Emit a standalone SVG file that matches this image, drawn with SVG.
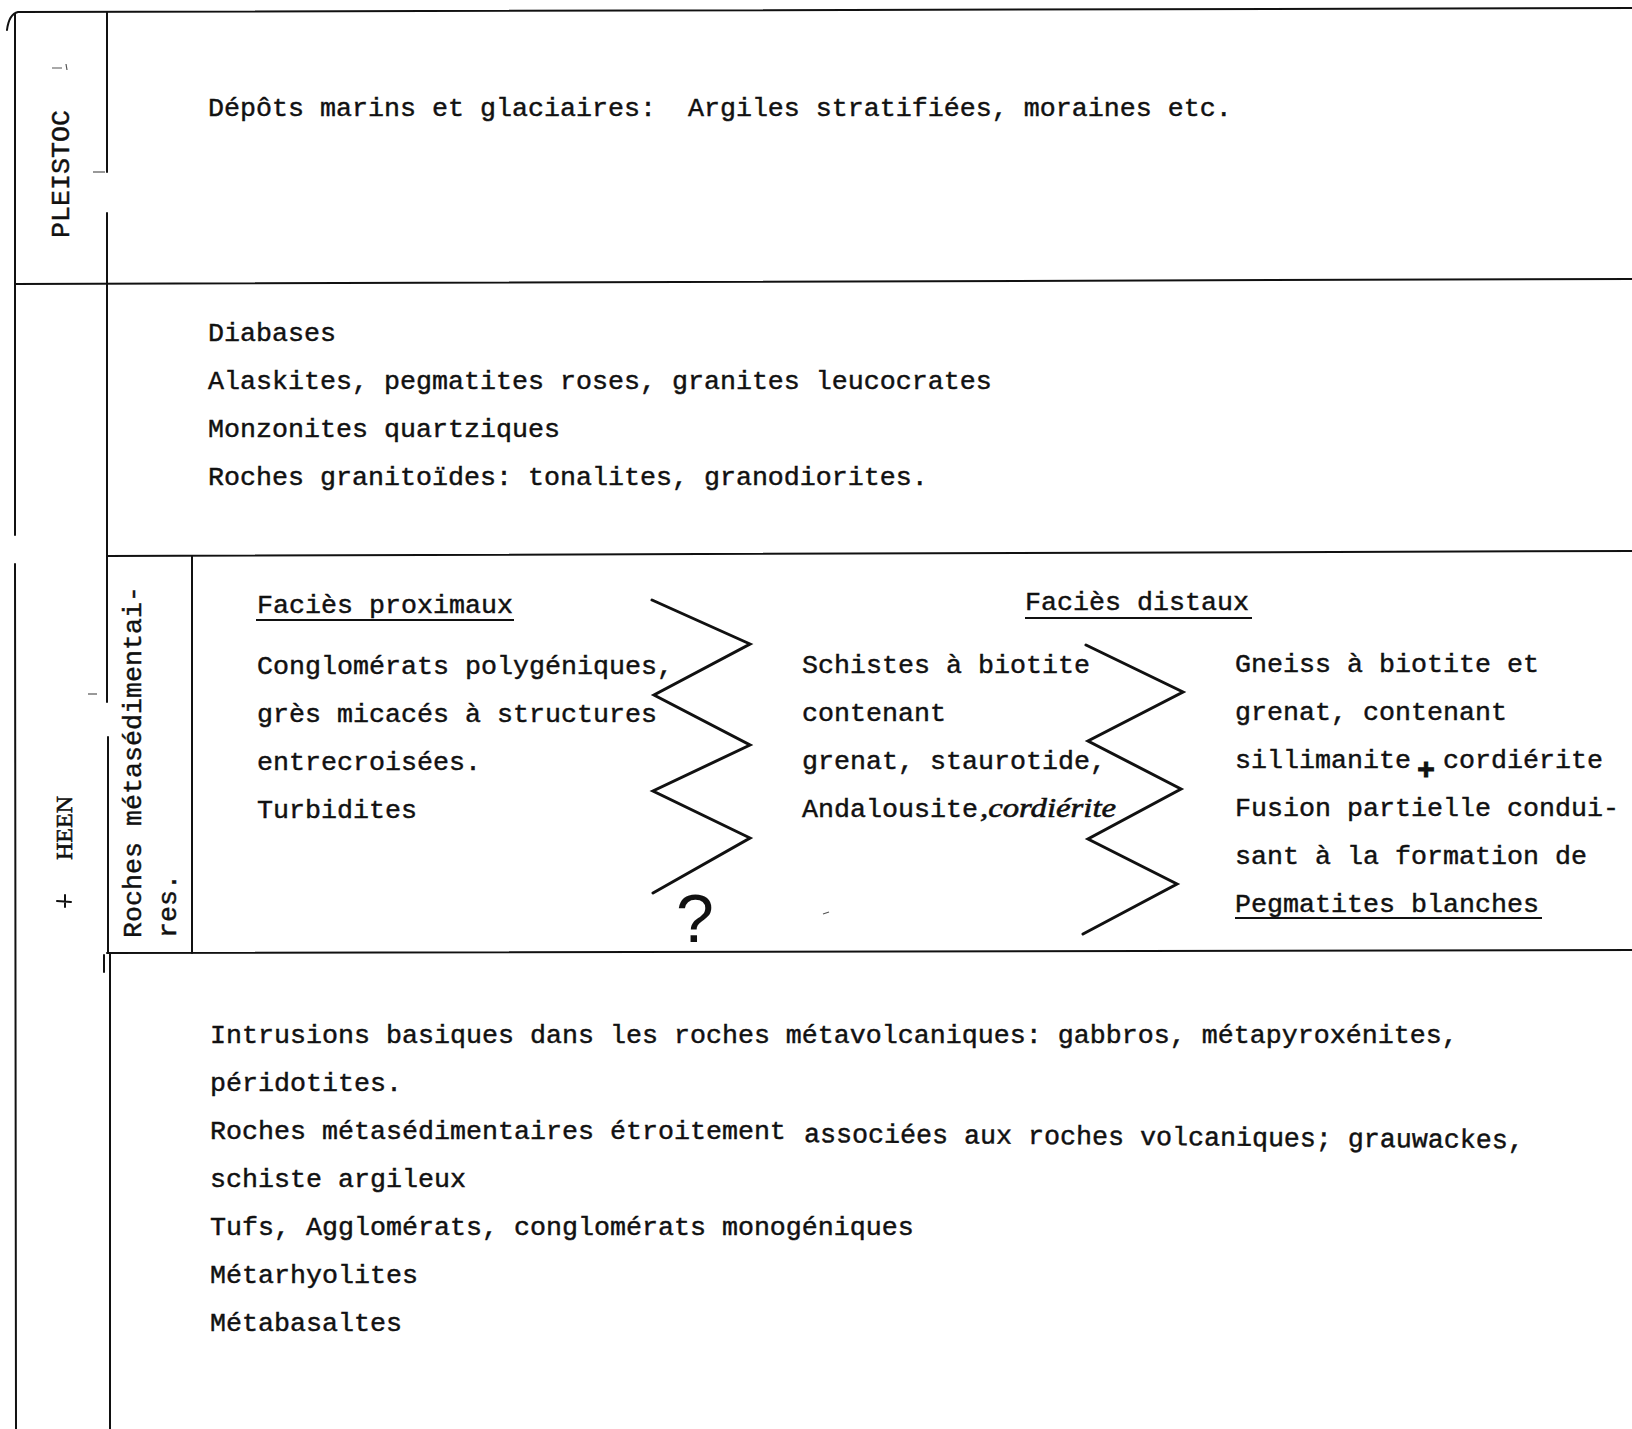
<svg xmlns="http://www.w3.org/2000/svg" width="1632" height="1429" viewBox="0 0 1632 1429">
<style>
  .t { font-family: "Liberation Mono", "Courier New", monospace; font-size: 26.67px; fill: #111; stroke: #111; stroke-width: 0.45; }
  .hand { font-family: "Liberation Serif", serif; font-style: italic; fill: #111; stroke: #111; stroke-width: 0.6; }
  .ln { stroke: #111; stroke-width: 2; fill: none; stroke-linecap: round; }
  .zz { stroke: #111; stroke-width: 3; fill: none; stroke-linejoin: miter; stroke-linecap: round; }
  .ul { stroke: #111; stroke-width: 1.8; }
  .faint { stroke: #555; stroke-width: 1.2; fill: none; }
</style>
<rect width="1632" height="1429" fill="#fff"/>

<g id="connectors">
  <!-- frame lines -->
  <path class="ln" d="M7,30 Q9,14 18,12 L1632,8"/>
  <path class="ln" d="M15,14 L15,535"/>
  <path class="ln" d="M15,564 L16,1429"/>
  <path class="ln" d="M107,12 L107,172"/>
  <path class="ln" d="M107,213 L107,702"/>
  <path class="ln" d="M108,737 L108,953"/>
  <path class="ln" d="M110,953 L110,1429"/>
  <path class="ln" d="M104,955 L104,972"/>
  <path class="ln" d="M15,284 L1632,279"/>
  <path class="ln" d="M107,556 L1632,551"/>
  <path class="ln" d="M107,953 L1632,950"/>
  <path class="ln" d="M192,556 L192,953"/>
  <!-- zigzags -->
  <polyline class="zz" points="652,600 750,644 654,695 750,745 653,791 750,838 653,893"/>
  <polyline class="zz" points="1086,645 1183,692 1088,741 1181,789 1088,839 1177,884 1083,934"/>
  <!-- underlines -->
  <line class="ul" x1="256" y1="620" x2="514" y2="620"/>
  <line class="ul" x1="1025" y1="618" x2="1252" y2="618"/>
  <line class="ul" x1="1235" y1="918" x2="1542" y2="918"/>
  <!-- small marks -->
  <path class="faint" d="M52,68 L62,68 M66,64 L67,70"/>
  <path class="faint" d="M93,172 L105,172"/>
  <path class="faint" d="M88,694 L97,694"/>
  <path class="faint" d="M823,914 L829,912"/>
  <path class="ln" d="M57,901 L71,902 M65,895 L65,907"/>
</g>

<g id="pleistoc-label">
  <text class="t" transform="translate(69,238) rotate(-90)">PLEISTOC</text>
</g>
<g id="heen-label">
  <text transform="translate(72,860) rotate(-90)" font-family="Liberation Serif, serif" font-size="24" fill="#111" stroke="#111" stroke-width="0.6">HEEN</text>
</g>
<g id="roches-label">
  <text class="t" transform="translate(141,938) rotate(-90)">Roches métasédimentai-</text>
  <text class="t" transform="translate(176,938) rotate(-90)">res.</text>
</g>

<g id="pleistocene">
  <text class="t" x="208" y="116" xml:space="preserve">Dépôts marins et glaciaires:  Argiles stratifiées, moraines etc.</text>
</g>

<g id="intrusives">
  <text class="t" x="208" y="341">Diabases</text>
  <text class="t" x="208" y="389">Alaskites, pegmatites roses, granites leucocrates</text>
  <text class="t" x="208" y="437">Monzonites quartziques</text>
  <text class="t" x="208" y="485">Roches granitoïdes: tonalites, granodiorites.</text>
</g>

<g id="facies-proximaux">
  <text class="t" x="257" y="613">Faciès proximaux</text>
  <text class="t" x="257" y="674">Conglomérats polygéniques,</text>
  <text class="t" x="257" y="722">grès micacés à structures</text>
  <text class="t" x="257" y="770">entrecroisées.</text>
  <text class="t" x="257" y="818">Turbidites</text>
  <text x="695" y="942" text-anchor="middle" font-family="Liberation Sans, sans-serif" font-size="68" fill="#111">?</text>
</g>

<g id="facies-intermediaire">
  <text class="t" x="802" y="673">Schistes à biotite</text>
  <text class="t" x="802" y="721">contenant</text>
  <text class="t" x="802" y="769">grenat, staurotide,</text>
  <text class="t" x="802" y="817">Andalousite</text>
  <text class="hand" x="980" y="817" font-size="28" textLength="136" lengthAdjust="spacingAndGlyphs">,cordiérite</text>
</g>

<g id="facies-distaux">
  <text class="t" x="1025" y="610">Faciès distaux</text>
  <text class="t" x="1235" y="672">Gneiss à biotite et</text>
  <text class="t" x="1235" y="720">grenat, contenant</text>
  <text class="t" x="1235" y="768">sillimanite</text>
  <text x="1426" y="779" text-anchor="middle" font-family="Liberation Sans, sans-serif" font-size="30" font-weight="bold" fill="#111" stroke="#111" stroke-width="1">+</text>
  <text class="t" x="1443" y="768">cordiérite</text>
  <text class="t" x="1235" y="816">Fusion partielle condui-</text>
  <text class="t" x="1235" y="864">sant à la formation de</text>
  <text class="t" x="1235" y="912">Pegmatites blanches</text>
</g>

<g id="volcanics">
  <text class="t" x="210" y="1043">Intrusions basiques dans les roches métavolcaniques: gabbros, métapyroxénites,</text>
  <text class="t" x="210" y="1091">péridotites.</text>
  <text class="t" x="210" y="1139">Roches métasédimentaires étroitement</text>
  <text class="t" x="804" y="1142" transform="rotate(0.5 804 1142)">associées aux roches volcaniques; grauwackes,</text>
  <text class="t" x="210" y="1187">schiste argileux</text>
  <text class="t" x="210" y="1235">Tufs, Agglomérats, conglomérats monogéniques</text>
  <text class="t" x="210" y="1283">Métarhyolites</text>
  <text class="t" x="210" y="1331">Métabasaltes</text>
</g>
</svg>
